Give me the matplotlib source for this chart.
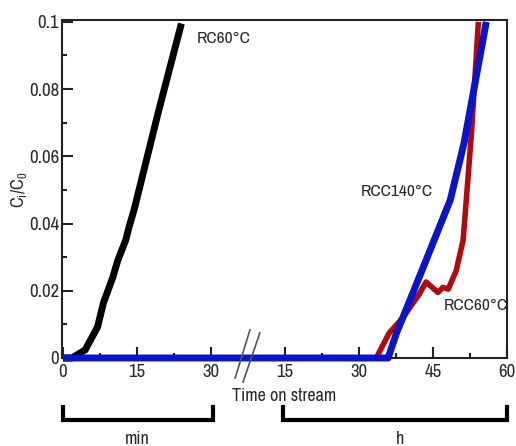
import matplotlib
matplotlib.use('Agg')
import matplotlib.pyplot as plt
import numpy as np

plt.rcParams['font.family'] = ['Archivo Narrow', 'DejaVu Sans']

# **********************************************
# data

# RC60°C, time in minutes
rc60_t = [0, 1.8, 4.5, 7.0, 8.2, 10.1, 11.1, 12.7, 13.4, 14.4, 19.3, 24.0]
rc60_c = [0, 0, 0.0024, 0.0092, 0.0164, 0.024, 0.029, 0.035, 0.039, 0.044, 0.073, 0.0995]

# RCC60°C, time in hours
rcc60_t = [0, 33.5, 36.1, 38.9, 42.2, 43.6, 46.0, 47.0, 48.1, 49.7, 51.1, 51.8, 52.8, 54.2]
rcc60_c = [0, 0, 0.0074, 0.012, 0.019, 0.0226, 0.0195, 0.021, 0.0205, 0.026, 0.035, 0.048, 0.067, 0.1]

# RCC140°C, time in hours
rcc140_t = [0, 35.9, 37.6, 42.2, 48.5, 51.3, 55.8]
rcc140_c = [0, 0, 0.0074, 0.024, 0.047, 0.064, 0.1]

min_ticks = [0, 15, 30]
h_ticks = [15, 30, 45, 60]
y_ticks = [0, 0.02, 0.04, 0.06, 0.08, 0.1]
y_labels = ['0', '0.02', '0.04', '0.06', '0.08', '0.1']

# the hour scale starts where the minute scale ends
H_OFFSET = 30

# **********************************************
# figure

fig = plt.figure(figsize=(5.16, 4.46), dpi=100)
ax = fig.add_axes([62 / 516, 88 / 446, 445 / 516, 338.5 / 446])

blue = '#0a14c8'
red = '#b00a0a'
txt = '#2a2a2a'

# blue runs along zero over the whole minute part too
x_blue = np.concatenate([[0], H_OFFSET + np.array(rcc140_t)])
y_blue = np.concatenate([[0], rcc140_c])

ax.plot(H_OFFSET + np.array(rcc60_t), rcc60_c, color=red, lw=4, clip_on=False,
        solid_capstyle='butt', zorder=3)
ax.plot(rc60_t, rc60_c, color='black', lw=5, clip_on=False, solid_capstyle='butt', zorder=4)
ax.plot(x_blue, y_blue, color=blue, lw=5, clip_on=False, solid_capstyle='butt', zorder=5)

ax.set_xlim(-0.2, 90)
ax.set_ylim(0, 0.1007)

# ticks
xt = list(min_ticks) + [H_OFFSET + t for t in h_ticks]
xl = [str(t) for t in min_ticks] + [str(t) for t in h_ticks]
ax.set_xticks(xt)
ax.set_xticklabels(xl)
ax.set_xticks([7.5, 22.5, H_OFFSET + 22.5, H_OFFSET + 37.5, H_OFFSET + 52.5], minor=True)
ax.set_yticks(y_ticks)
ax.set_yticklabels(y_labels)
ax.set_yticks([0.01, 0.03, 0.05, 0.07, 0.09], minor=True)

ax.tick_params(which='both', direction='in', width=1.5, labelsize=13.5, color='#222222',
               labelcolor=txt)
ax.tick_params(which='major', length=8)
ax.tick_params(which='minor', length=3.5)
ax.tick_params(axis='x', pad=4)
ax.tick_params(axis='y', pad=2)

for s in ax.spines.values():
    s.set_linewidth(1.5)
    s.set_color('#222222')

# labels inside the plot
ax.text(27.2, 0.0949, 'RC60°C', fontsize=12.5, va='center', ha='left', color=txt)
ax.text(60.4, 0.0494, 'RCC140°C', fontsize=12.5, va='center', ha='left', color=txt)
ax.text(77.2, 0.0155, 'RCC60°C', fontsize=12.5, va='center', ha='left', color=txt)

# axis break marks
tr = ax.get_xaxis_transform()
ax.plot([34.9, 37.9], [-0.059, 0.083], color='#555555', lw=1.2, transform=tr, clip_on=False, zorder=6)
ax.plot([36.5, 39.9], [-0.071, 0.074], color='#555555', lw=1.2, transform=tr, clip_on=False, zorder=6)

# brackets under the axis
bracket_y = [-0.145, -0.183, -0.183, -0.145]
ax.plot([0, 0, 30.4, 30.4], bracket_y, color='black', lw=3, transform=tr, clip_on=False,
        solid_joinstyle='miter')
ax.plot([H_OFFSET + 14.6, H_OFFSET + 14.6, 90, 90], bracket_y, color='black', lw=3,
        transform=tr, clip_on=False, solid_joinstyle='miter')

fig.text(284 / 516, 1 - 396 / 446, 'Time on stream', fontsize=13, ha='center', va='center',
         color=txt)
fig.text(137 / 516, 1 - 431 / 446, 'min', fontsize=13, ha='center', va='top', color=txt)
fig.text(400 / 516, 1 - 431 / 446, 'h', fontsize=13, ha='center', va='top', color=txt)
fig.text(19 / 516, 1 - 190 / 446, r'C$_\mathregular{i}$/C$_\mathregular{0}$', fontsize=13,
         rotation=90, ha='center', va='center', color=txt)

fig.savefig('out.png', dpi=100)
